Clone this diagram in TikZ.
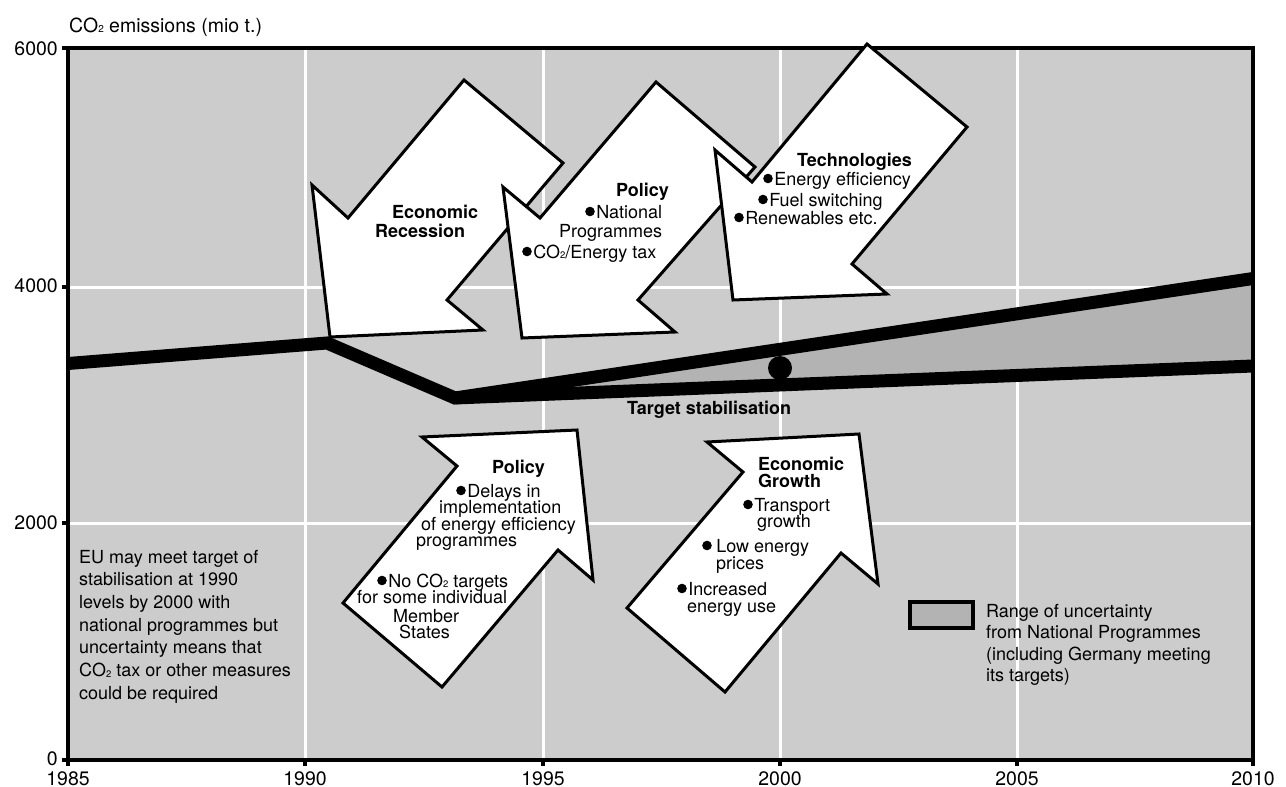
\documentclass[tikz,border=0pt]{standalone}
\usepackage{fontspec}
\setmainfont{TeX Gyre Heros}
\definecolor{plotgray}{RGB}{204,204,204}
\definecolor{rangegray}{RGB}{179,179,179}
\newcommand\bul{\tikz[baseline=-6.5pt]\fill (0pt,0pt) circle[radius=4.8pt];\hspace{1.5pt}}
\newcommand\cotwo{CO\raisebox{-0.5pt}{\fontsize{9.5}{9.5}\selectfont 2}}
\tikzset{
  gridline/.style={white, line width=3},
  emis/.style={line width=13, line join=miter},
  frameline/.style={line width=4, black},
  tick/.style={line width=4, black},
  arrowshape/.style={fill=white, draw=black, line width=3, line join=miter},
  txt/.style={anchor=base west, inner sep=0, font=\fontsize{18}{20}\selectfont},
  btxt/.style={anchor=base west, inner sep=0, font=\fontsize{18}{20}\selectfont\bfseries},
  ylab/.style={anchor=base east, inner sep=0, font=\fontsize{19.5}{20}\selectfont},
  xlab/.style={anchor=base, inner sep=0, font=\fontsize{19.5}{20}\selectfont},
}
\begin{document}
\begin{tikzpicture}[x=1pt, y=-1pt]
\useasboundingbox (0,0) rectangle (1286,787);
% plot background
\fill[plotgray] (68,48) rectangle (1253,760);
% grid
\foreach \gx in {305,543,780,1017} \draw[gridline] (\gx,48) -- (\gx,760);
\foreach \gy in {287,523} \draw[gridline] (68,\gy) -- (1253,\gy);
% range of uncertainty
\fill[rangegray] (455,398) -- (1253,278.5) -- (1253,366) -- cycle;
% emission lines
\coordinate (l0) at (68,363.5);
\coordinate (l1) at (327,343);
\coordinate (l2) at (455,398);
\coordinate (lhi) at (1253,278.5);
\coordinate (llo) at (1253,366);
\draw[emis] (l0) -- (l1) -- (l2) -- (llo);
\draw[emis] (l2) -- (lhi);
\fill (780,368) circle[radius=12];
% frame
\draw[frameline] (68,48) rectangle (1253,760);
\foreach \ty in {48,287,523,760} \draw[tick] (62,\ty) -- (68,\ty);
\foreach \tx in {68,305,543,780,1017,1253} \draw[tick] (\tx,760) -- (\tx,766);
% axis labels
\node[txt, font=\fontsize{19.5}{22}\selectfont] (title) at (69,32) {CO\raisebox{-0.5pt}{\fontsize{10}{10}\selectfont 2} emissions (mio t.)};
\node[ylab] (y6000) at (58,55) {6000};
\node[ylab] (y4000) at (58,292) {4000};
\node[ylab] (y2000) at (58,529) {2000};
\node[ylab] (y0) at (58,765) {0};
\node[xlab] (x1985) at (68,785) {1985};
\node[xlab] (x1990) at (305,785) {1990};
\node[xlab] (x1995) at (543,785) {1995};
\node[xlab] (x2000) at (780,785) {2000};
\node[xlab] (x2005) at (1017,785) {2005};
\node[xlab] (x2010) at (1253,785) {2010};
\node[btxt] (target) at (627,414) {Target stabilisation};
% arrows
\draw[arrowshape] (464,80) -- (563,163) -- (447,300) -- (483,330) -- (330,337) -- (312,185) -- (348,218) -- cycle;
\draw[arrowshape] (656,82) -- (755,167) -- (638,300) -- (675,332) -- (522,338) -- (503,187) -- (540,218) -- cycle;
\draw[arrowshape] (867,44) -- (967,127) -- (852,264) -- (887,294) -- (733,300) -- (715,150) -- (752,182) -- cycle;
\draw[arrowshape] (442,687) -- (343,603) -- (457,466) -- (422,437) -- (577,430) -- (593,580) -- (558,550) -- cycle;
\draw[arrowshape] (725,692) -- (627,608) -- (743,472) -- (707,442) -- (859,434) -- (878,584) -- (841,553) -- cycle;
% arrow texts
\node[btxt] (er1) at (392,218) {Economic};
\node[btxt] (er2) at (375,237) {Recession};
\node[btxt] (p1) at (616,196) {Policy};
\node[txt] (p2) at (585,218) {\bul National};
\node[txt] (p3) at (559,237) {Programmes};
\node[txt] (p4) at (522,258) {\bul\cotwo/Energy tax};
\node[btxt] (t1) at (797,166) {Technologies};
\node[txt] (t2) at (763,185) {\bul Energy efficiency};
\node[txt] (t3) at (758,206) {\bul Fuel switching};
\node[txt] (t4) at (734,224) {\bul Renewables etc.};
\node[btxt] (q1) at (492,473) {Policy};
\node[txt] (q2) at (456,497) {\bul Delays in};
\node[txt] (q3) at (439,513) {implementation};
\node[txt] (q4) at (421,530) {of energy efficiency};
\node[txt] (q5) at (416,546) {programmes};
\node[txt] (q6) at (377,587) {\bul No \cotwo{} targets};
\node[txt] (q7) at (357,603) {for some individual};
\node[txt] (q8) at (393,622) {Member};
\node[txt] (q9) at (399,638) {States};
\node[btxt] (g1) at (758,470) {Economic};
\node[btxt] (g2) at (758,487) {Growth};
\node[txt] (g3) at (743,511) {\bul Transport};
\node[txt] (g4) at (757,527) {growth};
\node[txt] (g5) at (702,552) {\bul\hspace{3pt}Low energy};
\node[txt] (g6) at (716,569) {prices};
\node[txt] (g7) at (677,595) {\bul Increased};
\node[txt] (g8) at (687,612) {energy use};
% left note
\foreach \t [count=\i] in {{EU may meet target of},{stabilisation at 1990},{levels by 2000 with},{national programmes but},{uncertainty means that},{\cotwo{} tax or other measures},{could be required}}
  \node[txt] (eu\i) at (79,{563+22.7*(\i-1)}) {\t};
% legend
\draw[fill=rangegray, line width=3.5] (910,602) rectangle (973,628);
\foreach \t [count=\i] in {{Range of uncertainty},{from National Programmes},{(including Germany meeting},{its targets)}}
  \node[txt] (lg\i) at (986,{617+21.5*(\i-1)}) {\t};
\end{tikzpicture}
\end{document}
